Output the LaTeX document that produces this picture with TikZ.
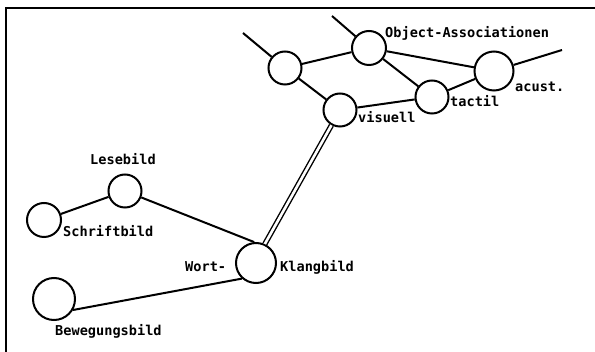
\documentclass[tikz,border=0pt]{standalone}
\usepackage{fontspec}
\newfontfamily\monofont{DejaVu Sans Mono}
\begin{document}
\begin{tikzpicture}[x=1pt,y=-1pt,
  nd/.style={circle,draw,line width=2pt,minimum size=#1,inner sep=0pt},
  lab/.style={anchor=base west,inner sep=0pt,font=\monofont\bfseries\fontsize{13.6}{14}\selectfont},
  edge/.style={line width=2pt},
  dbl/.style={double,line width=1.4pt,double distance=2.6pt}]
\useasboundingbox (0,0) rectangle (595,352);
% frame
\draw[line width=1.8pt] (6,352) -- (6,8) -- (595,8);
% nodes
\node[nd=33pt] (tl) at (285,68) {};
\node[nd=34pt] (oa) at (369,48) {};
\node[nd=39pt] (ac) at (494,71) {};
\node[nd=33pt] (ta) at (432,97) {};
\node[nd=33pt] (vi) at (340,110) {};
\node[nd=33pt] (le) at (125,191) {};
\node[nd=34pt] (sc) at (44,220) {};
\node[nd=40pt] (wk) at (256,263) {};
\node[nd=42pt] (be) at (54,299) {};
% free ends
\coordinate (f1) at (243,33);
\coordinate (f2) at (332,16);
\coordinate (f3) at (562,50);
% edges
\draw[edge] (tl) -- (f1);
\draw[edge] (oa) -- (f2);
\draw[edge] (ac) -- (f3);
\draw[edge] (tl) -- (oa);
\draw[edge] (tl) -- (vi);
\draw[edge] (oa) -- (ac);
\draw[edge] (oa) -- (ta);
\draw[edge] (vi) -- (ta);
\draw[edge] (ta) -- (ac);
\draw[dbl] (vi) -- (wk.65);
\draw[edge] (le) -- (sc);
\draw[edge] (le) -- (wk.95);
\draw[edge] (be.-30) -- (wk.228);
% labels
\node[lab] (loa) at (385,38) {Object-Associationen};
\node[lab] (lac) at (515,92) {acust.};
\node[lab] (lta) at (450,107) {tactil};
\node[lab] (lvi) at (358,123) {visuell};
\node[lab] (lle) at (90,165) {Lesebild};
\node[lab] (lsc) at (63,237) {Schriftbild};
\node[lab] (lwo) at (185,272) {Wort-};
\node[lab] (lkl) at (280,272) {Klangbild};
\node[lab] (lbe) at (55,336) {Bewegungsbild};
\end{tikzpicture}
\end{document}
